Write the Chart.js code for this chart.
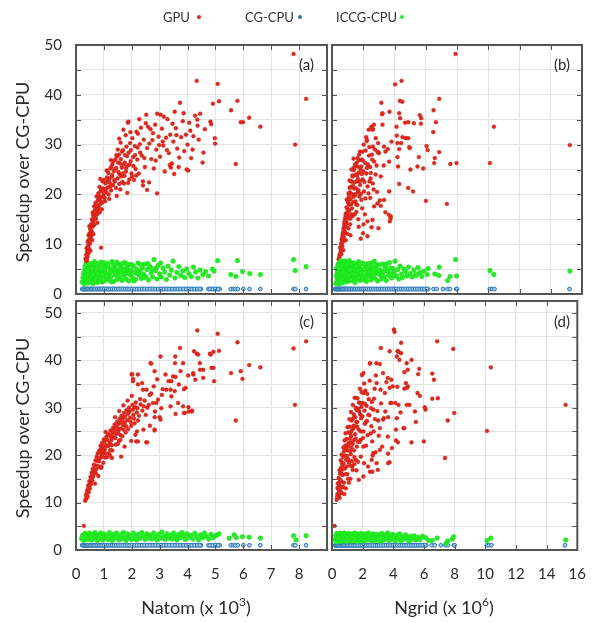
<!DOCTYPE html>
<html>
<head>
<meta charset="utf-8">
<title>Speedup over CG-CPU</title>
<script src="https://cdn.jsdelivr.net/npm/chart.js@4/dist/chart.umd.min.js"></script>
<style>
  html, body { margin: 0; padding: 0; background: #fff; }
  #wrap { position: relative; width: 601px; height: 623px; overflow: hidden; font-family: Lato, "Open Sans", sans-serif; color: #2b2b2b; }
  #wrap canvas { position: absolute; left: 0; top: 0; }
  .txt { position: absolute; white-space: nowrap; }
  .lg { font-size: 13px; line-height: 14px; top: 10px; color: #333; }
  .dot { position: absolute; width: 4px; height: 4px; border-radius: 50%; top: 15px; }
  .xt { font-size: 18px; line-height: 18px; top: 594px; width: 200px; text-align: center; }
  .xt sup { font-size: 12px; position: relative; top: -1px; }
  .yt { font-size: 18px; line-height: 20px; width: 220px; text-align: center; transform: rotate(-90deg); }
  .pl { font-size: 15px; line-height: 15px; width: 40px; text-align: right; }
</style>
</head>
<body>
<div id="wrap">
  <canvas id="pa" width="601" height="623"></canvas>
  <canvas id="pb" width="601" height="623"></canvas>
  <canvas id="pc" width="601" height="623"></canvas>
  <canvas id="pd" width="601" height="623"></canvas>

  <span class="txt lg" style="left:163px">GPU</span>
  <span class="dot" style="left:197px;background:#e3261c"></span>
  <span class="txt lg" style="left:245px">CG-CPU</span>
  <span class="dot" style="left:298px;background:#2a78b5"></span>
  <span class="txt lg" style="left:336px">ICCG-CPU</span>
  <span class="dot" style="left:400px;background:#22ee22"></span>

  <div class="txt yt" style="left:-88px;top:162px">Speedup over CG-CPU</div>
  <div class="txt yt" style="left:-88px;top:418px">Speedup over CG-CPU</div>

  <div class="txt xt" style="left:96px">Natom (x 10<sup>3</sup>)</div>
  <div class="txt xt" style="left:344px">Ngrid (x 10<sup>6</sup>)</div>

  <div class="txt pl" style="left:274px;top:57px">(a)</div>
  <div class="txt pl" style="left:530px;top:57px">(b)</div>
  <div class="txt pl" style="left:274px;top:314px">(c)</div>
  <div class="txt pl" style="left:530px;top:314px">(d)</div>
</div>

<script>
/* ============================================================
   Data
   top row = panels (a)/(b), bottom row = panels (c)/(d)
   ============================================================ */
const natomTicks = [0, 1, 2, 3, 4, 5, 6, 7, 8, 9];
const natomLabels = ['0', '1', '2', '3', '4', '5', '6', '7', '8', ''];
const ngridTicks = [0, 2, 4, 6, 8, 10, 12, 14, 16];
const ngridLabels = ['0', '2', '4', '6', '8', '10', '12', '14', '16'];
const speedupTicks = [0, 5, 10, 15, 20, 25, 30, 35, 40, 45, 50];
const speedupLabels = ['0', '', '10', '', '20', '', '30', '', '40', '', '50'];

// CG-CPU is the baseline, its speedup over itself is 1
const CG_SPEEDUP = 1;
const cgNatom = [0.22,0.26,0.30,0.34,0.38,0.42,0.47,0.52,0.57,0.62,0.68,0.74,0.80,0.86,0.92,0.98,1.05,1.12,1.19,1.26,1.33,1.40,1.48,1.56,1.64,1.72,1.80,1.88,1.96,2.05,2.14,2.23,2.32,2.41,2.50,2.60,2.70,2.80,2.90,3.00,3.10,3.20,3.30,3.40,3.50,3.60,3.70,3.80,3.90,4.00,4.10,4.20,4.30,4.40,4.48,4.75,4.85,4.95,5.05,5.15,5.55,5.65,5.72,5.80,6.00,6.22,6.61,7.80,7.86,8.25,
  0.24,0.28,0.32,0.36,0.40,0.45,0.50,0.55,0.60,0.65,0.71,0.77,0.83,0.89,0.95,1.02,1.09,1.16,1.23,1.30,1.37,1.44,1.52,1.60,1.68,1.76,1.84,1.92,2.00,2.10,2.19,2.28,2.37,2.46,2.55,2.65,2.75,2.85,2.95,3.05,3.15,3.25,3.35,3.45,3.55,3.65,3.75,3.85,3.95,4.05,4.15,4.25,4.35,4.44,4.80,4.90,5.00,5.10];
const cgNgrid = [0.20,0.25,0.30,0.36,0.42,0.48,0.55,0.62,0.70,0.78,0.86,0.95,1.04,1.14,1.24,1.34,1.45,1.56,1.68,1.80,1.92,2.05,2.18,2.31,2.45,2.59,2.73,2.87,3.01,3.15,3.30,3.45,3.60,3.75,3.90,4.05,4.20,4.35,4.50,4.65,4.80,4.95,5.10,5.25,5.40,5.55,5.70,5.85,6.00,6.15,6.50,6.70,7.10,7.40,7.55,7.95,8.00,10.10,10.25,10.40,15.20,
  0.22,0.28,0.33,0.39,0.45,0.51,0.58,0.66,0.74,0.82,0.90,0.99,1.09,1.19,1.29,1.40,1.50,1.62,1.74,1.86,1.98,2.11,2.24,2.38,2.52,2.66,2.80,2.94,3.08,3.22,3.37,3.52,3.67,3.82,3.97,4.12,4.27,4.42,4.57,4.72,4.87,5.02,5.17,5.32,5.47,5.62,5.77,5.92,6.08];

// (a) GPU vs Natom
const gpuA = [[0.33,5.6],[0.36,6.3],[0.34,7.1],[0.39,6.7],[0.37,7.9],[0.41,7.4],[0.40,8.6],[0.44,8.1],[0.38,9.2],[0.43,9.7],[0.47,9.0],[0.42,10.5],[0.46,10.9],[0.50,10.1],[0.45,11.8],[0.49,12.2],[0.53,11.4],[0.51,13.0],[0.56,12.6],[0.48,13.6],[0.55,14.1],[0.59,13.5],[0.52,8.7],[0.58,10.8],[0.62,12.0],
  [0.57,15.0],[0.61,14.6],[0.64,15.6],[0.60,16.4],[0.66,13.9],[0.68,16.9],[0.65,17.6],[0.71,15.3],[0.73,17.2],[0.70,18.3],[0.76,16.0],[0.78,18.8],[0.74,19.6],[0.81,17.4],[0.83,19.2],[0.80,20.2],[0.86,18.0],[0.88,20.7],[0.84,21.5],[0.91,19.4],[0.93,17.0],[0.95,21.2],[0.98,19.9],[0.90,9.3],[0.77,14.3],[0.96,22.6],[1.01,20.9],[1.04,18.6],[1.06,22.2],[0.87,23.1],
  [1.09,20.4],[1.11,23.4],[1.14,21.4],[1.16,24.3],[1.19,19.1],[1.21,22.3],[1.23,25.2],[1.26,20.8],[1.28,23.6],[1.31,26.1],[1.33,21.9],[1.36,24.7],[1.39,22.6],[1.41,27.0],[1.44,25.3],[1.46,19.7],[1.49,23.2],[1.51,26.4],[1.54,28.0],[1.56,24.1],[1.59,21.0],[1.61,27.1],[1.64,25.4],[1.66,22.5],[1.69,28.9],[1.71,26.0],[1.74,23.7],[1.76,27.9],[1.79,24.6],[1.81,29.6],[1.84,20.3],[1.86,25.8],[1.89,28.4],[1.91,23.0],[1.94,30.3],[1.96,26.7],[1.99,24.2],[2.02,31.3],[2.05,27.5],[2.08,22.9],[2.11,29.7],[2.14,25.1],[2.17,32.6],[2.20,27.0],[1.86,34.4],[1.88,34.6],[1.78,31.9],[1.60,30.4],[1.50,29.0],
  [2.22,32.2],[2.25,24.2],[2.29,30.1],[2.33,33.4],[2.36,27.8],[2.40,21.8],[2.43,31.0],[2.47,25.5],[2.52,36.0],[2.55,29.3],[2.58,33.6],[2.62,22.4],[2.67,33.1],[2.70,27.1],[2.74,30.9],[2.79,25.2],[2.84,34.0],[2.88,29.0],[2.91,36.2],[2.96,31.6],[3.01,27.6],[3.03,36.0],[3.08,33.2],[3.13,29.8],[3.18,24.6],[3.23,31.4],[3.28,35.1],[3.33,28.3],[3.38,32.0],[3.44,26.2],[3.49,30.6],[3.54,36.6],[3.58,33.3],[3.63,29.2],[3.68,25.5],[3.73,38.4],[3.77,31.5],[3.83,34.7],[3.88,28.7],[3.94,32.0],[4.00,30.0],[4.06,34.4],[4.13,27.3],[4.21,31.7],[4.27,35.8],[4.35,35.0],[4.36,33.8],[4.33,42.8],[4.45,36.2],[4.54,26.4],[4.57,28.4],[4.82,34.6],[4.85,34.1],[4.91,38.2],[4.98,31.3],[4.99,30.2],[5.08,42.2],[5.13,38.7],[5.56,36.9],[5.73,26.1],[5.79,38.8],[5.91,34.5],[5.99,34.5],[6.21,35.4],[6.61,33.6],[7.80,48.2],[7.86,30.0],[8.25,39.2],
  [2.40,22.6],[2.55,20.9],[2.91,20.2],[3.40,25.4],[3.97,25.0],[4.02,24.8],[3.36,25.9],
  [0.37,6.9],[0.40,7.7],[0.44,9.3],[0.46,8.5],[0.49,10.6],[0.51,11.9],[0.54,12.2],[0.57,13.8],[0.59,12.2],[0.61,15.9],[0.63,14.1],[0.66,16.1],[0.69,15.0],[0.72,17.9],[0.75,16.6],[0.79,17.1],[0.82,19.7],[0.85,16.4],[0.89,18.6],[0.92,21.0],[0.94,18.3],[0.97,20.6],[1.00,22.9],[1.03,19.3],[1.07,21.1],[1.10,24.8],[1.13,22.7],[1.17,20.0],[1.20,23.1],[1.24,21.6],[1.27,25.6],[1.30,23.9],[1.34,26.7],[1.37,22.9],[1.40,25.1],[1.43,21.3],[1.47,27.6],[1.52,24.5],[1.55,22.1],[1.58,26.2],[1.62,23.6],[1.65,28.6],[1.68,24.2],[1.72,22.2],[1.75,26.4],[1.80,25.3],[1.83,27.7],[1.87,22.3],[1.92,26.0],[1.97,28.9],[2.01,23.6],[2.06,25.7],[2.12,27.9],[2.16,23.8],[2.21,29.4],[1.55,31.2],[1.70,33.0],[1.95,32.5],[1.45,27.9],[1.25,26.9],
  [2.27,35.1],[2.50,34.3],[2.63,30.2],[2.76,32.3],[2.98,29.9],[3.11,30.6],[3.26,28.9],[3.46,34.2],[3.60,31.9],[3.70,27.4],[3.86,36.3],[4.10,32.8],[4.18,29.0],[4.40,31.0],[4.62,33.1],[2.30,28.4],[2.45,27.3],[2.86,26.8],[3.15,35.6],[3.52,24.1]];

// (a) ICCG-CPU vs Natom
const iccgA = [[0.22,2.4],[0.25,3.3],[0.27,4.2],[0.30,2.0],[0.31,5.0],[0.33,3.7],[0.35,2.8],[0.37,4.6],[0.39,5.6],[0.41,3.1],[0.43,2.2],[0.45,4.0],[0.47,5.2],[0.49,3.5],[0.51,2.6],[0.53,4.8],[0.55,6.0],[0.57,3.0],[0.59,4.3],[0.61,2.1],[0.63,5.4],[0.65,3.8],[0.67,2.7],[0.69,4.9],[0.71,6.2],[0.73,3.3],[0.75,4.5],[0.77,2.3],[0.79,5.7],[0.81,3.9],[0.83,2.9],[0.85,5.1],[0.87,4.2],[0.89,6.4],[0.91,3.4],[0.93,2.4],[0.95,4.7],[0.97,5.8],[0.99,3.6],[1.02,2.6],[1.05,4.4],[1.08,5.5],[1.11,3.1],[1.14,6.1],[1.17,4.0],[1.20,2.8],[1.23,5.0],[1.26,3.5],[1.29,6.5],[1.32,4.6],[1.35,2.5],[1.38,5.3],[1.41,3.8],[1.44,4.9],[1.47,2.9],[1.50,6.0],[1.53,4.2],[1.56,3.2],[1.59,5.6],[1.62,4.5],[1.65,2.7],[1.68,5.1],[1.71,3.7],[1.74,6.3],[1.77,4.1],[1.80,3.0],[1.83,5.4],[1.86,4.7],[1.89,2.6],[1.92,5.9],[1.95,3.9],[1.98,4.8],[2.02,3.3],[2.06,5.6],[2.10,4.3],[2.14,2.9],[2.18,5.0],[2.22,6.2],[2.26,3.8],[2.30,4.6],[2.34,3.1],[2.38,5.3],[2.42,4.0],[2.46,6.0],[2.50,3.5],[2.55,4.9],[2.60,2.8],[2.65,5.5],[2.70,4.2],[2.75,3.4],[2.80,6.9],[2.85,4.7],[2.90,3.0],[2.95,5.8],[3.00,4.0],[3.06,3.4],[3.12,5.2],[3.18,4.4],[3.24,2.9],[3.30,5.6],[3.36,3.8],[3.42,4.8],[3.48,6.6],[3.55,3.2],[3.62,4.3],[3.69,5.5],[3.76,3.7],[3.83,4.6],[3.90,3.3],[3.97,5.0],[4.05,4.1],[4.13,3.5],[4.21,5.4],[4.29,4.4],[4.37,3.2],[4.45,4.8],[4.55,3.9],[4.65,4.5],[4.75,3.6],[4.89,5.0],[4.95,4.6],[5.08,6.7],[5.55,3.9],[5.73,3.5],[5.79,6.7],[5.97,4.5],[6.23,4.1],[6.61,3.9],[7.80,6.9],[7.86,4.7],[8.25,5.5],
  [0.34,5.8],[0.38,3.3],[0.42,4.7],[0.46,2.9],[0.50,6.1],[0.54,3.6],[0.58,5.1],[0.62,3.9],[0.66,6.5],[0.70,2.8],[0.74,5.9],[0.78,4.1],[0.82,6.0],[0.86,2.6],[0.90,4.9],[0.94,3.9],[1.00,6.3],[1.04,5.0],[1.10,3.7],[1.16,5.6],[1.22,4.3],[1.28,2.4],[1.34,5.9],[1.40,4.4],[1.46,6.4],[1.52,3.6],[1.60,4.9],[1.66,6.1],[1.72,4.7],[1.82,6.0],[1.90,4.1],[2.00,5.9],[2.08,2.6],[2.20,4.1],[2.32,5.9],[2.44,3.3],[2.58,6.1],[2.72,5.1],[2.88,5.2],[3.04,6.2]];

// (b) GPU vs Ngrid
const gpuB = [[0.40,5.2],[0.45,6.2],[0.42,7.0],[0.50,6.8],[0.48,7.9],[0.55,8.5],[0.52,9.3],[0.60,8.0],[0.58,10.1],[0.65,9.6],[0.62,11.0],[0.70,10.5],[0.68,12.0],[0.75,11.4],[0.73,13.1],[0.80,12.6],[0.78,14.2],[0.86,13.5],[0.84,15.3],[0.92,14.4],[0.90,16.2],[0.97,12.1],[0.98,17.1],[1.04,15.7],[1.02,18.4],[1.10,16.8],[1.08,19.5],[1.16,14.0],[1.15,20.4],[1.22,18.0],[1.20,21.5],[1.28,17.2],[1.27,22.6],[1.35,19.5],[1.33,23.6],[1.42,21.2],[1.40,24.9],[1.50,18.6],[1.48,26.0],[1.57,22.6],[1.56,16.5],[1.64,20.4],[1.63,27.3],[1.72,24.4],[1.71,13.5],[1.80,21.9],[1.79,28.6],[1.88,18.9],[1.87,25.6],[1.96,23.0],[1.95,28.6],[2.04,20.6],[2.03,30.0],[2.12,26.3],[2.11,16.0],[2.20,24.2],[2.19,31.5],[2.28,21.6],[2.27,14.6],[2.36,27.8],[2.35,33.0],[2.45,19.3],[2.44,25.5],[2.52,33.6],[2.53,13.4],[2.62,29.6],[2.61,22.2],[2.70,26.6],[2.70,17.6],[2.80,31.3],[2.79,24.0],[2.88,20.5],[2.97,13.2],[2.96,28.4],[3.01,28.3],[3.06,18.8],[3.12,17.7],[3.16,38.4],[3.21,36.1],[3.23,34.0],[3.31,25.8],[3.42,28.6],[3.42,16.4],[3.57,29.1],[3.64,15.9],[3.68,36.6],[3.70,14.6],[3.75,15.2],[3.81,30.6],[4.04,42.1],[4.13,33.6],[4.15,31.8],[4.23,25.6],[4.30,36.3],[4.30,29.1],[4.30,22.1],[4.34,38.8],[4.36,35.3],[4.43,30.3],[4.45,42.8],[4.50,38.6],[4.68,34.4],[4.72,31.3],[4.88,34.5],[4.88,31.3],[4.88,21.3],[4.98,29.3],[5.02,25.0],[5.19,20.6],[5.24,34.3],[5.47,25.6],[5.56,27.5],[5.62,35.9],[5.69,34.2],[5.71,35.3],[5.84,25.2],[6.01,18.7],[6.05,29.7],[6.12,28.9],[6.48,32.5],[6.50,36.9],[6.54,26.3],[6.58,27.3],[6.65,34.5],[6.86,28.5],[6.86,39.2],[7.35,18.1],[7.57,26.1],[7.91,48.2],[7.97,26.3],[10.11,26.3],[10.36,33.6],[15.22,29.9],
  [3.23,36.3],[2.59,33.0],[2.69,34.0],[2.22,30.7],[1.73,26.9],[1.63,25.6],[4.19,30.3],[4.51,31.5],[4.94,29.5],[4.19,27.5],[3.66,26.6],[3.33,29.6],[2.91,28.6],[2.48,24.3],[3.12,23.6],[3.66,20.6],[3.33,18.9],[2.91,18.2],[3.76,15.6],[2.59,14.9],[2.27,11.6],[1.99,12.2],[1.84,11.1],[2.24,30.9],[2.95,30.3],[2.63,33.1],
  [0.95,19.0],[1.12,22.8],[1.25,25.0],[1.38,27.2],[1.45,20.0],[1.60,23.8],[1.75,19.6],[1.90,27.0],[2.00,24.6],[2.15,28.8],[2.30,26.0],[2.40,22.6],[2.55,28.0],[1.05,13.2],[1.30,15.6],[1.55,18.0],[0.88,10.8],[0.72,8.8],[1.18,11.8],[0.35,4.6],
  [0.44,5.9],[0.47,7.4],[0.53,8.0],[0.57,9.0],[0.61,9.9],[0.64,10.8],[0.67,11.5],[0.71,12.4],[0.74,12.1],[0.77,13.6],[0.81,14.7],[0.83,12.3],[0.87,15.9],[0.89,14.0],[0.93,17.4],[0.96,15.1],[1.00,18.7],[1.03,16.4],[1.06,20.2],[1.09,17.9],[1.13,21.3],[1.17,19.0],[1.21,22.6],[1.24,20.1],[1.26,16.0],[1.30,23.8],[1.34,21.7],[1.37,18.5],[1.41,25.4],[1.44,22.4],[1.47,19.8],[1.52,24.0],[1.55,21.2],[1.59,26.4],[1.62,17.9],[1.66,23.1],[1.69,20.8],[1.74,28.0],[1.77,22.6],[1.82,25.1],[1.85,20.1],[1.91,24.1],[1.93,17.2],[1.98,26.8],[2.07,22.5],[2.14,19.2],[2.23,25.3],[2.33,20.2],[2.39,29.5],[2.47,23.2],[2.57,27.0],[2.66,21.0],[2.75,29.0],[2.85,25.8],[1.16,15.1],[1.45,16.0],[1.68,15.0],[2.02,14.0]];

// (b) ICCG-CPU vs Ngrid
const iccgB = [[0.25,2.1],[0.28,3.6],[0.30,5.2],[0.33,2.8],[0.36,4.4],[0.38,6.0],[0.41,3.2],[0.44,2.0],[0.46,4.9],[0.49,3.9],[0.52,6.4],[0.55,2.5],[0.57,5.5],[0.60,3.4],[0.63,4.6],[0.66,2.2],[0.69,6.1],[0.72,3.8],[0.75,5.0],[0.78,2.9],[0.81,4.2],[0.84,6.6],[0.87,3.5],[0.90,5.4],[0.93,2.4],[0.96,4.7],[0.99,3.0],[1.03,5.9],[1.07,4.0],[1.11,2.6],[1.15,5.2],[1.19,3.6],[1.23,6.3],[1.27,4.5],[1.31,2.8],[1.35,5.6],[1.39,3.3],[1.43,4.8],[1.47,2.3],[1.51,6.0],[1.55,4.1],[1.59,3.0],[1.63,5.3],[1.67,3.8],[1.71,6.5],[1.75,4.4],[1.79,2.7],[1.83,5.1],[1.87,3.5],[1.91,4.6],[1.95,6.2],[2.00,2.9],[2.05,4.9],[2.10,3.7],[2.15,5.7],[2.20,2.5],[2.25,4.3],[2.30,6.1],[2.35,3.4],[2.40,5.0],[2.45,4.0],[2.50,2.8],[2.55,5.5],[2.60,3.6],[2.65,4.7],[2.70,6.6],[2.75,3.1],[2.80,5.2],[2.86,4.2],[2.92,2.6],[2.98,5.8],[3.04,3.9],[3.10,4.8],[3.16,3.0],[3.22,6.0],[3.28,4.4],[3.34,3.4],[3.40,5.3],[3.47,2.7],[3.54,4.6],[3.61,3.7],[3.68,6.3],[3.75,4.1],[3.82,3.2],[3.89,5.1],[3.96,4.3],[4.04,6.6],[4.12,3.6],[4.20,4.9],[4.28,3.0],[4.36,5.6],[4.44,4.0],[4.52,3.3],[4.60,5.0],[4.70,4.5],[4.80,3.6],[4.90,5.4],[5.00,4.1],[5.12,3.4],[5.24,4.8],[5.36,3.9],[5.41,3.7],[5.50,5.3],[5.62,4.3],[5.75,3.5],[5.88,4.6],[6.09,3.9],[6.16,5.1],[6.58,4.0],[6.84,3.7],[6.86,5.4],[7.40,2.7],[7.55,3.5],[7.91,6.9],[7.97,3.6],[10.11,4.7],[10.36,3.9],[15.22,4.6],
  [0.32,3.9],[0.35,2.4],[0.40,5.6],[0.43,4.2],[0.47,3.0],[0.51,5.1],[0.54,4.0],[0.58,6.7],[0.62,2.9],[0.65,5.8],[0.70,4.4],[0.74,3.2],[0.77,6.4],[0.82,3.6],[0.86,5.7],[0.91,4.1],[0.95,6.0],[1.00,3.7],[1.05,5.0],[1.09,6.7],[1.13,3.9],[1.18,4.8],[1.22,2.9],[1.29,5.9],[1.33,4.1],[1.41,6.2],[1.49,3.9],[1.57,5.5],[1.65,4.7],[1.73,3.3],[1.81,6.0],[1.89,4.3],[1.97,3.3],[2.07,6.0],[2.17,3.2],[2.27,5.3],[2.37,4.5],[2.52,6.2],[2.67,3.8],[2.83,5.9],[3.00,4.7],[3.20,3.8],[3.45,6.0],[3.70,5.2],[4.00,3.8]];

// (c) GPU vs Natom
const gpuC = [[0.28,5.1],[0.33,10.4],[0.36,11.6],[0.38,10.9],[0.40,12.5],[0.42,11.3],[0.44,13.6],[0.46,12.2],[0.48,14.5],[0.50,13.0],[0.52,15.4],[0.54,13.9],[0.56,16.3],[0.58,14.7],[0.60,17.1],[0.62,15.5],[0.64,18.0],[0.66,16.3],[0.68,14.0],[0.70,18.9],[0.72,17.0],[0.74,19.7],[0.76,17.8],[0.78,20.4],[0.80,15.6],[0.82,18.7],[0.84,21.0],[0.86,19.4],[0.88,22.0],[0.90,17.3],[0.92,20.1],[0.94,22.6],[0.96,20.7],[0.98,18.4],[1.00,23.3],[1.03,21.2],[1.06,19.5],[1.09,23.9],[1.12,21.9],[1.15,24.5],[1.18,20.4],[1.21,22.6],[1.24,25.2],[1.27,23.2],[1.30,21.0],[1.33,25.8],[1.36,23.8],[1.39,26.5],[1.42,22.2],[1.45,24.5],[1.48,27.1],[1.51,25.0],[1.54,23.0],[1.57,27.7],[1.60,25.6],[1.63,28.3],[1.66,24.0],[1.69,26.3],[1.72,28.9],[1.75,26.9],[1.78,24.8],[1.81,29.5],[1.84,27.4],[1.87,25.5],[1.90,30.0],[1.94,27.9],[1.98,26.2],[2.02,30.6],[2.06,28.5],[2.10,26.7],[2.14,31.1],[2.18,29.0],[2.22,27.3],[1.29,19.4],[1.23,21.1],[1.59,23.2],
  [1.11,19.6],[1.62,19.7],[1.74,21.8],[2.16,22.9],[2.52,22.7],[2.42,25.4],[2.82,25.4],[2.82,28.0],[3.00,28.0],[1.98,23.0],[2.13,24.3],[3.06,29.9],[3.39,30.3],[3.57,28.7],[3.90,28.9],[4.04,29.2],[4.16,29.4],[3.84,30.3],[3.66,31.0],[3.42,32.4],[3.54,33.5],[3.24,33.8],[3.08,32.7],[2.94,31.7],[2.76,31.0],[2.64,32.7],[2.40,33.8],[2.22,34.9],[2.04,35.6],[2.00,37.0],[2.22,37.0],[2.67,39.4],[2.82,37.7],[3.03,40.8],[3.56,40.8],[3.73,42.6],[3.84,39.4],[4.02,36.8],[3.75,37.7],[3.48,36.6],[3.32,35.6],[4.20,37.3],[4.28,35.9],[4.44,39.4],[4.56,38.0],[4.23,41.9],[4.38,41.2],[4.80,41.4],[4.86,38.4],[3.87,33.9],
  [4.35,46.3],[5.08,45.6],[8.25,44.0],[7.80,42.5],[5.79,43.8],[4.33,41.4],[4.93,41.8],[4.83,41.2],[5.13,42.0],[2.70,39.3],[6.21,39.0],[6.61,38.5],[5.56,37.3],[5.91,37.7],[5.97,36.1],[4.95,35.6],[4.93,38.4],[4.56,36.3],[4.21,37.0],[4.45,38.0],[7.85,30.6],[5.73,27.3],[3.87,28.9],[4.03,30.1],[4.15,29.2],[3.93,34.2],[3.69,34.9],[3.57,36.5],[3.42,35.6],[3.39,33.8],[3.11,33.9],[3.03,27.5],[2.83,29.2],[2.82,25.2],[2.55,22.7],[2.22,22.9],[2.19,25.0],[2.61,30.6],[2.43,30.3],[2.01,37.1],[2.05,36.1],[2.37,35.2],[2.53,33.8],[2.79,34.5],[2.91,36.0],[3.21,37.0],[3.55,39.4],
  [1.40,28.0],[1.55,29.3],[1.70,30.5],[1.85,31.5],[2.00,32.5],[2.30,31.8],[2.50,28.5],[2.65,26.2],
  [0.35,10.8],[0.39,12.0],[0.43,12.9],[0.47,13.6],[0.51,14.3],[0.55,15.1],[0.59,16.1],[0.63,16.9],[0.67,17.8],[0.71,16.2],[0.75,18.8],[0.79,19.3],[0.83,17.5],[0.87,20.6],[0.91,21.4],[0.95,19.6],[0.99,21.8],[1.02,22.8],[1.05,20.4],[1.08,22.1],[1.13,23.2],[1.17,22.0],[1.20,24.2],[1.25,23.9],[1.28,22.1],[1.32,24.6],[1.37,25.2],[1.41,23.6],[1.44,26.0],[1.49,25.7],[1.53,26.6],[1.58,24.3],[1.62,26.9],[1.67,27.6],[1.71,25.4],[1.76,28.1],[1.80,26.1],[1.86,28.7],[1.92,29.2],[1.96,27.0],[2.04,29.6],[2.08,27.7],[2.12,30.1],[2.20,29.9],[2.26,28.3],[2.32,30.7],[2.38,29.4],[2.46,31.5],[2.56,30.0],[2.70,33.0],[2.88,31.0],[1.06,24.9],[0.91,17.6],[1.22,19.9],[1.50,22.4]];

// (c) ICCG-CPU vs Natom
const iccgC = [[0.20,2.4],[0.24,3.1],[0.28,2.0],[0.32,3.5],[0.36,2.6],[0.40,3.0],[0.44,2.2],[0.48,3.6],[0.52,2.8],[0.56,2.1],[0.60,3.3],[0.64,2.5],[0.68,3.7],[0.72,2.9],[0.76,2.0],[0.80,3.2],[0.84,2.4],[0.88,3.6],[0.92,2.7],[0.96,2.1],[1.00,3.4],[1.05,2.6],[1.10,3.0],[1.15,2.2],[1.20,3.7],[1.25,2.8],[1.30,2.0],[1.35,3.3],[1.40,2.5],[1.45,3.6],[1.50,2.9],[1.55,2.1],[1.60,3.2],[1.65,2.4],[1.70,3.7],[1.75,2.7],[1.80,2.0],[1.85,3.4],[1.90,2.6],[1.95,3.0],[2.00,2.2],[2.06,3.6],[2.12,2.8],[2.18,2.1],[2.24,3.3],[2.30,2.5],[2.36,3.7],[2.42,2.9],[2.48,2.2],[2.54,3.4],[2.60,2.6],[2.66,3.1],[2.72,2.3],[2.78,3.6],[2.84,2.8],[2.90,2.1],[2.96,3.3],[3.02,2.5],[3.08,3.8],[3.14,2.9],[3.20,2.2],[3.26,3.4],[3.32,2.6],[3.38,3.1],[3.44,2.3],[3.50,3.6],[3.56,2.8],[3.62,2.1],[3.68,3.3],[3.74,2.6],[3.80,3.7],[3.86,2.9],[3.92,2.2],[3.98,3.4],[4.05,2.7],[4.12,3.1],[4.19,2.3],[4.26,3.5],[4.33,2.8],[4.40,2.1],[4.47,3.2],[4.54,2.6],[4.61,3.6],[4.68,2.9],[4.76,2.3],[4.84,3.3],[4.92,2.6],[5.00,3.0],[5.07,3.2],[5.13,3.4],[5.49,2.5],[5.67,3.2],[5.75,2.6],[5.97,2.8],[6.21,2.7],[6.61,2.5],[7.80,3.0],[7.89,2.1],[8.25,3.0]];

// (d) GPU vs Ngrid
const gpuD = [[0.17,5.1],[0.30,10.6],[0.35,11.8],[0.40,12.9],[0.45,11.5],[0.38,14.0],[0.50,13.6],[0.44,15.2],[0.55,12.4],[0.52,16.1],[0.60,14.5],[0.58,17.3],[0.66,13.2],[0.64,18.4],[0.70,15.8],[0.72,19.6],[0.78,14.2],[0.78,20.8],[0.84,17.2],[0.86,22.0],[0.90,13.0],[0.92,19.0],[0.95,23.4],[1.00,16.0],[1.02,21.0],[1.05,24.8],[1.10,18.4],[1.12,22.6],[1.15,26.0],[1.20,15.0],[1.22,20.2],[1.25,24.0],[1.28,27.3],[1.32,17.6],[1.35,22.4],[1.38,25.6],[1.42,28.6],[1.46,19.6],[1.50,24.4],[1.54,30.0],[1.58,27.0],[1.62,21.8],[1.66,32.0],[1.70,18.6],[1.74,25.4],[1.78,29.2],[1.82,34.0],[1.86,23.2],[1.90,27.8],[1.95,36.9],[1.88,19.7],[1.56,19.0],[1.35,16.9],[2.00,31.0],[2.05,25.0],[2.09,18.3],[2.12,29.4],[2.18,33.6],[2.22,22.0],[2.28,27.2],[2.35,17.6],[2.40,31.8],[2.48,39.3],[2.52,24.6],[2.57,26.1],[2.63,16.5],[2.65,19.9],[2.70,29.6],[2.78,34.0],[2.84,20.6],[2.90,39.4],[2.99,16.9],[3.01,27.3],[3.12,21.1],[3.19,42.6],[3.27,21.8],[3.38,27.8],[3.48,29.2],[3.55,35.4],[3.64,23.9],[3.64,36.3],[3.66,20.3],[3.75,18.5],[3.76,41.9],[3.81,31.0],[3.91,21.5],[3.96,34.5],[4.04,46.5],[4.08,46.0],[4.13,31.0],[4.17,25.4],[4.17,23.1],[4.23,27.8],[4.23,40.8],[4.26,34.4],[4.28,41.9],[4.30,22.7],[4.34,30.6],[4.34,41.8],[4.47,29.0],[4.51,43.7],[4.66,25.7],[4.72,25.7],[4.72,34.0],[4.82,35.2],[4.88,30.6],[4.94,38.0],[4.94,34.5],[5.19,40.1],[5.19,22.7],[5.41,29.2],[5.47,27.0],[5.58,33.1],[5.62,37.1],[5.69,38.2],[5.73,32.5],[5.99,22.9],[6.05,30.1],[6.10,29.6],[6.54,31.9],[6.54,37.2],[6.65,35.9],[6.86,44.0],[6.90,32.0],[7.37,19.4],[7.55,27.3],[7.91,42.4],[7.97,28.9],[10.11,25.1],[10.36,38.5],[15.24,30.6],
  [2.48,39.4],[3.12,39.2],[3.33,37.3],[3.87,35.9],[3.76,34.2],[4.51,41.5],[4.30,41.9],[4.40,40.1],[4.87,39.4],[4.72,37.5],[4.90,34.2],[5.05,30.6],[3.17,33.8],[2.91,35.2],[3.87,31.0],[3.66,28.0],[3.33,27.5],[3.12,25.7],[2.69,20.4],[2.59,19.0],[2.91,18.3],[3.66,18.3],[2.05,21.8],[2.48,16.5],[2.05,15.5],[2.05,33.1],[2.05,37.3],[1.84,31.0],
  [0.50,11.0],[0.62,12.0],[0.70,17.0],[0.88,16.0],[0.98,19.8],[1.08,22.0],[1.18,24.6],[1.26,21.6],[1.40,26.2],[1.44,23.2],[1.52,28.0],[1.64,26.0],[1.72,29.8],[1.80,22.8],[1.92,30.2],[2.14,26.6],[2.25,30.4],[2.32,24.2],[2.44,28.4],[2.60,31.2],[2.72,25.0],[2.80,27.6],[1.10,14.2],[1.30,18.8],[1.60,16.8],[0.80,11.8],[1.75,14.8],
  [0.33,11.2],[0.36,13.1],[0.42,14.1],[0.47,12.2],[0.49,16.8],[0.53,14.8],[0.57,18.9],[0.61,16.2],[0.63,20.1],[0.68,17.9],[0.74,21.6],[0.76,18.2],[0.82,23.1],[0.85,19.9],[0.88,24.6],[0.93,21.4],[0.96,17.6],[1.01,25.9],[1.04,22.3],[1.07,19.1],[1.13,27.6],[1.16,23.5],[1.19,20.9],[1.24,29.1],[1.27,25.1],[1.31,22.8],[1.36,30.6],[1.39,27.8],[1.43,21.0],[1.48,32.1],[1.51,26.1],[1.55,23.5],[1.61,29.5],[1.65,27.0],[1.69,22.8],[1.76,31.1],[1.83,28.6],[1.87,25.0],[1.93,33.3],[1.98,28.2],[2.02,23.6],[2.10,35.1],[2.16,30.8],[2.20,26.9],[2.30,32.9],[2.37,28.5],[2.46,35.7],[2.55,29.9],[2.62,22.9],[2.74,31.9],[2.86,36.8],[2.96,29.3],[3.05,24.1],[3.20,30.9],[3.45,33.1],[1.20,17.8],[1.45,18.1],[1.05,15.0],[0.72,13.3]];

// (d) ICCG-CPU vs Ngrid
const iccgD = [[0.20,2.2],[0.24,3.0],[0.28,1.7],[0.32,3.5],[0.36,2.5],[0.40,2.0],[0.44,3.3],[0.48,2.7],[0.52,1.8],[0.56,3.6],[0.60,2.3],[0.65,3.1],[0.70,1.9],[0.75,2.9],[0.80,3.6],[0.85,2.1],[0.90,3.2],[0.95,2.6],[1.00,1.8],[1.06,3.5],[1.12,2.4],[1.18,3.0],[1.24,1.9],[1.30,3.4],[1.36,2.7],[1.42,2.0],[1.48,3.6],[1.54,2.5],[1.60,3.1],[1.66,1.8],[1.72,3.3],[1.78,2.6],[1.84,2.0],[1.90,3.5],[1.96,2.4],[2.03,3.0],[2.10,1.9],[2.17,3.4],[2.24,2.7],[2.31,2.1],[2.38,3.6],[2.45,2.5],[2.52,3.1],[2.60,1.9],[2.68,3.4],[2.76,2.6],[2.84,2.0],[2.92,3.3],[3.00,2.4],[3.08,3.0],[3.16,1.8],[3.24,3.5],[3.32,2.6],[3.40,2.1],[3.48,3.2],[3.56,2.5],[3.64,3.6],[3.72,2.0],[3.80,2.9],[3.88,2.3],[3.96,3.3],[4.05,2.6],[4.14,1.9],[4.23,3.1],[4.32,2.4],[4.41,3.4],[4.50,2.0],[4.60,2.8],[4.70,2.3],[4.80,3.2],[4.90,2.6],[5.00,1.9],[5.12,2.9],[5.24,2.3],[5.36,3.0],[5.48,2.1],[5.60,2.7],[5.75,2.2],[5.90,2.9],[6.10,2.6],[6.30,2.0],[6.54,2.0],[6.86,2.5],[7.44,1.4],[7.55,1.9],[7.85,2.3],[7.93,2.8],[10.11,2.0],[10.36,2.5],[15.24,2.1]];

(function () {
  'use strict';

  /* ============================================================
     Styles
     ============================================================ */
  const FONT = 'Lato, "Open Sans", sans-serif';
  const INK = '#2b2b2b';
  const GRID = '#e4e4e4';
  const FRAME = '#555555';
  const RED = '#e5271c', RED_EDGE = '#c42219';
  const BLUE = '#2a78b5', BLUE_FILL = '#a8cdeb';
  const GREEN = '#22ee22', GREEN_EDGE = '#1bd81b';

  const toPts = (arr) => arr.map(([x, y]) => ({ x, y }));
  const cgPts = (xs) => xs.map((x) => ({ x, y: CG_SPEEDUP }));

  // gnuplot-like frame with inward ticks on all four sides
  const framePlugin = {
    id: 'frame',
    afterDatasetsDraw(chart) {
      const { ctx, chartArea: a, scales: { x, y } } = chart;
      ctx.save();
      ctx.strokeStyle = FRAME;
      ctx.lineWidth = 1;
      ctx.beginPath();
      x.ticks.forEach((t) => {
        const px = Math.round(x.getPixelForValue(t.value)) + 0.5;
        ctx.moveTo(px, a.bottom); ctx.lineTo(px, a.bottom - 5);
        ctx.moveTo(px, a.top); ctx.lineTo(px, a.top + 5);
      });
      y.ticks.forEach((t) => {
        const py = Math.round(y.getPixelForValue(t.value)) + 0.5;
        ctx.moveTo(a.left, py); ctx.lineTo(a.left + 5, py);
        ctx.moveTo(a.right, py); ctx.lineTo(a.right - 5, py);
      });
      ctx.stroke();
      ctx.lineWidth = 2;
      ctx.strokeRect(a.left, a.top, a.right - a.left, a.bottom - a.top);
      ctx.restore();
    },
  };

  /* ============================================================
     One panel = one Chart.js scatter, all four overlaid
     ============================================================ */
  function panel(id, o) {
    new Chart(document.getElementById(id), {
      type: 'scatter',
      data: {
        datasets: [
          { label: 'GPU', data: toPts(o.gpu), order: 3, pointRadius: 1.9,
            backgroundColor: RED, borderColor: RED_EDGE, borderWidth: 0.5 },
          { label: 'CG-CPU', data: cgPts(o.cg), order: 2, pointRadius: 1.9,
            backgroundColor: BLUE_FILL, borderColor: BLUE, borderWidth: 1 },
          { label: 'ICCG-CPU', data: toPts(o.iccg), order: 1, pointRadius: 2.3,
            backgroundColor: GREEN, borderColor: GREEN_EDGE, borderWidth: 0.5 },
        ],
      },
      options: {
        responsive: false,
        devicePixelRatio: 1,
        animation: false,
        events: [],
        layout: { padding: o.pad },
        plugins: { legend: { display: false }, tooltip: { enabled: false } },
        scales: {
          x: {
            type: 'linear', min: 0, max: o.xMax,
            afterBuildTicks: (s) => { s.ticks = o.xTicks.map((v) => ({ value: v })); },
            afterFit: (s) => { s.height = o.showX ? 40 : 0; },
            grid: { color: GRID, drawTicks: false },
            border: { display: false },
            ticks: {
              display: o.showX, padding: 15, maxRotation: 0, autoSkip: false,
              color: INK, font: { family: FONT, size: 15 },
              callback: (v, i) => o.xLabels[i],
            },
          },
          y: {
            type: 'linear', min: 0, max: o.yMax,
            afterBuildTicks: (s) => { s.ticks = speedupTicks.map((v) => ({ value: v })); },
            afterFit: (s) => { s.width = o.showY ? 66 : 0; },
            grid: { color: GRID, drawTicks: false },
            border: { display: false },
            ticks: {
              display: o.showY, padding: 14, color: INK, font: { family: FONT, size: 15 },
              callback: (v, i) => speedupLabels[i],
            },
          },
        },
      },
      plugins: [framePlugin],
    });
  }

  panel('pa', { gpu: gpuA, cg: cgNatom, iccg: iccgA, xMax: 9, xTicks: natomTicks, xLabels: natomLabels,
    yMax: 50, showX: false, showY: true, pad: { left: 10, top: 45, right: 274, bottom: 329 } });
  panel('pb', { gpu: gpuB, cg: cgNgrid, iccg: iccgB, xMax: 16, xTicks: ngridTicks, xLabels: ngridLabels,
    yMax: 50, showX: false, showY: false, pad: { left: 332, top: 45, right: 19, bottom: 329 } });
  panel('pc', { gpu: gpuC, cg: cgNatom, iccg: iccgC, xMax: 9, xTicks: natomTicks, xLabels: natomLabels,
    yMax: 52.5, showX: true, showY: true, pad: { left: 10, top: 301, right: 274, bottom: 33 } });
  panel('pd', { gpu: gpuD, cg: cgNgrid, iccg: iccgD, xMax: 16, xTicks: ngridTicks, xLabels: ngridLabels,
    yMax: 52.5, showX: true, showY: false, pad: { left: 332, top: 301, right: 19, bottom: 33 } });
})();
</script>
</body>
</html>
